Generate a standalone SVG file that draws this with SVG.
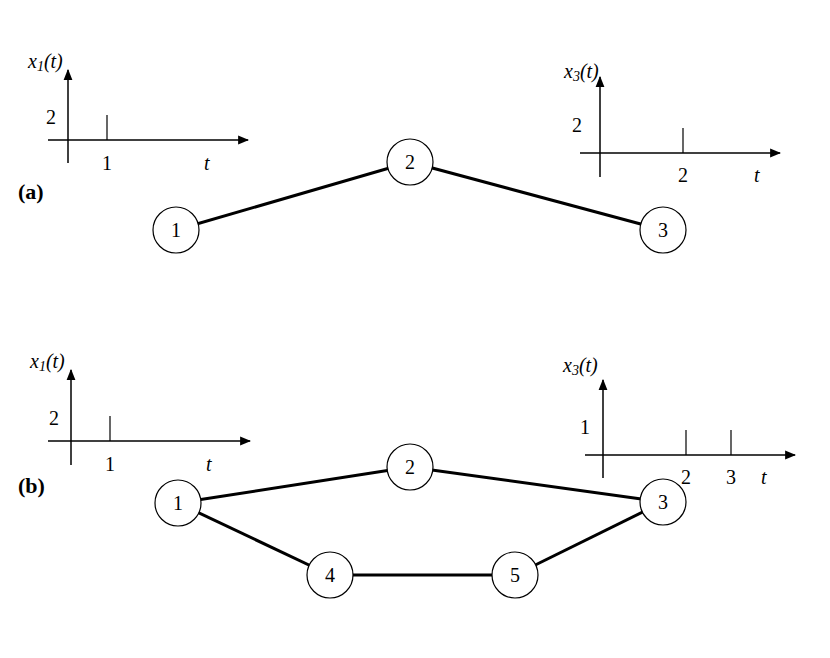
<svg xmlns="http://www.w3.org/2000/svg" width="830" height="658" viewBox="0 0 830 658" font-family="'Liberation Serif','DejaVu Serif',serif">
<style>
text{font-family:'Liberation Serif','DejaVu Serif',serif;font-size:20px;fill:#000}
.it{font-style:italic}
.ax{stroke:#000;stroke-width:1.5;fill:none}
.tk{stroke:#000;stroke-width:1.2}
.nd circle{fill:#fff;stroke:#000;stroke-width:1.2}
.nd text{text-anchor:middle}
.ed line{stroke:#000;stroke-width:3}
.lb{font-weight:bold;font-size:22px}
</style>
<defs><marker id="ar" viewBox="0 0 10 10" refX="9" refY="5" markerWidth="11" markerHeight="11" markerUnits="userSpaceOnUse" orient="auto"><path d="M0,1 L10,5 L0,9 Z" fill="#000"/></marker></defs>
<rect width="830" height="658" fill="#fff"/>
<g id="plot-a1">
<line class="ax" x1="68" y1="163" x2="68" y2="70" marker-end="url(#ar)"/>
<line class="ax" x1="48" y1="140" x2="248" y2="140" marker-end="url(#ar)"/>
<line class="tk" x1="107" y1="115" x2="107" y2="140"/>
<text x="28" y="68" class="it">x<tspan font-size="14" dy="3">1</tspan><tspan dy="-3">(t)</tspan></text>
<text x="46" y="124">2</text><text x="102" y="170">1</text><text x="204" y="170" class="it">t</text>
</g>
<g id="plot-a3">
<line class="ax" x1="600" y1="177" x2="600" y2="77" marker-end="url(#ar)"/>
<line class="ax" x1="580" y1="153" x2="780" y2="153" marker-end="url(#ar)"/>
<line class="tk" x1="683" y1="128" x2="683" y2="153"/>
<text x="564" y="78" class="it">x<tspan font-size="14" dy="3">3</tspan><tspan dy="-3">(t)</tspan></text>
<text x="572" y="132">2</text><text x="678" y="182">2</text><text x="754" y="182" class="it">t</text>
</g>
<g id="plot-b1">
<line class="ax" x1="71" y1="465" x2="71" y2="370" marker-end="url(#ar)"/>
<line class="ax" x1="48" y1="441" x2="250" y2="441" marker-end="url(#ar)"/>
<line class="tk" x1="110" y1="416" x2="110" y2="441"/>
<text x="30" y="368" class="it">x<tspan font-size="14" dy="3">1</tspan><tspan dy="-3">(t)</tspan></text>
<text x="49" y="425">2</text><text x="105" y="471">1</text><text x="206" y="471" class="it">t</text>
</g>
<g id="plot-b3">
<line class="ax" x1="603" y1="478" x2="603" y2="380" marker-end="url(#ar)"/>
<line class="ax" x1="585" y1="455" x2="795" y2="455" marker-end="url(#ar)"/>
<line class="tk" x1="686" y1="430" x2="686" y2="455"/>
<line class="tk" x1="731" y1="430" x2="731" y2="455"/>
<text x="563" y="372" class="it">x<tspan font-size="14" dy="3">3</tspan><tspan dy="-3">(t)</tspan></text>
<text x="580" y="434">1</text><text x="681" y="484">2</text><text x="726" y="484">3</text><text x="761" y="484" class="it">t</text>
</g>
<text x="18" y="199" class="lb">(a)</text>
<text x="18" y="493" class="lb">(b)</text>
<g id="connectors" class="ed">
<line x1="176" y1="230" x2="410" y2="162"/>
<line x1="410" y1="162" x2="663" y2="230"/>
<line x1="178" y1="503" x2="410" y2="467"/>
<line x1="410" y1="467" x2="663" y2="502"/>
<line x1="178" y1="503" x2="330" y2="575"/>
<line x1="330" y1="575" x2="515" y2="575"/>
<line x1="515" y1="575" x2="663" y2="502"/>
</g>
<g id="a-n1" class="nd"><circle cx="176" cy="230" r="23"/><text x="176" y="237">1</text></g>
<g id="a-n2" class="nd"><circle cx="410" cy="162" r="23"/><text x="410" y="169">2</text></g>
<g id="a-n3" class="nd"><circle cx="663" cy="230" r="23"/><text x="663" y="237">3</text></g>
<g id="b-n1" class="nd"><circle cx="178" cy="503" r="23"/><text x="178" y="510">1</text></g>
<g id="b-n2" class="nd"><circle cx="410" cy="467" r="23"/><text x="410" y="474">2</text></g>
<g id="b-n3" class="nd"><circle cx="663" cy="502" r="23"/><text x="663" y="509">3</text></g>
<g id="b-n4" class="nd"><circle cx="330" cy="575" r="23"/><text x="330" y="582">4</text></g>
<g id="b-n5" class="nd"><circle cx="515" cy="575" r="23"/><text x="515" y="582">5</text></g>
</svg>
